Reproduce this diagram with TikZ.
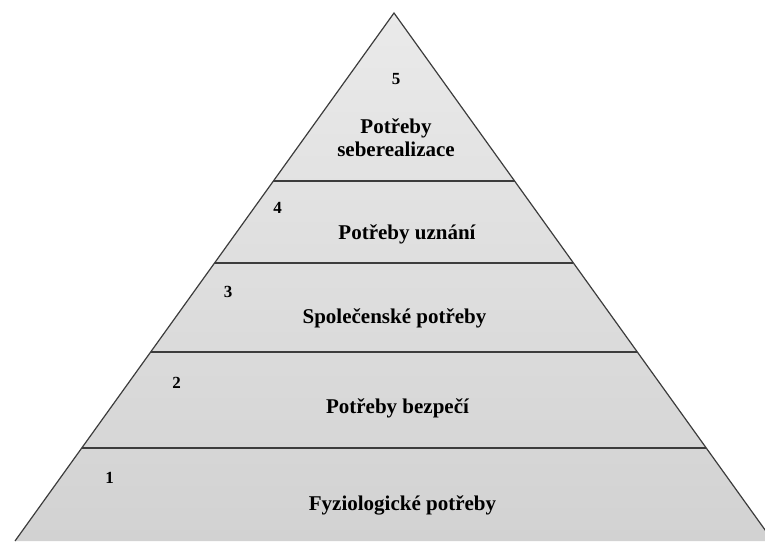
\documentclass[tikz,border=0pt]{standalone}
\usepackage{fontspec}
\setmainfont{Liberation Serif}
\usetikzlibrary{calc}
\definecolor{edgegray}{RGB}{60,60,60}
\definecolor{filltop}{RGB}{234,234,234}
\definecolor{fillbottom}{RGB}{210,210,210}
\tikzset{
  layerline/.style={draw=edgegray, line width=1.2pt},
  levelnum/.style={font=\fontsize{17}{20}\selectfont\bfseries, inner sep=0pt, anchor=base},
  levelname/.style={font=\fontsize{21}{23}\selectfont\bfseries, inner sep=0pt, anchor=base, align=center},
}
\begin{document}
\begin{tikzpicture}[x=1pt,y=-1pt]
  \useasboundingbox (0,0) rectangle (765,541);
  \clip (0,0) rectangle (765,541);
  % corners of the pyramid
  \coordinate (apex) at (394,13);
  \coordinate (bl) at (15,541);
  \coordinate (br) at (773,541);
  % body with a soft top-to-bottom grey
  \shade[top color=filltop, bottom color=fillbottom] (apex) -- (bl) -- (br) -- cycle;
  % dividing lines between the levels
  \foreach \t/\n in {0.3182/a, 0.4735/b, 0.6420/c, 0.8239/d} {
    \coordinate (L\n) at ($(apex)!\t!(bl)$);
    \coordinate (R\n) at ($(apex)!\t!(br)$);
    \draw[layerline] (L\n) -- (R\n);
  }
  % outline
  \draw[layerline, line join=miter] (bl) -- (apex) -- (br);
  % level numbers
  \node[levelnum] (n5) at (396,84) {5};
  \node[levelnum] (n4) at (277.5,213) {4};
  \node[levelnum] (n3) at (228,297) {3};
  \node[levelnum] (n2) at (176.5,388) {2};
  \node[levelnum] (n1) at (109.5,483) {1};
  % level names
  \node[levelname, anchor=center] (t5) at (396,138) {Potřeby\\seberealizace};
  \node[levelname] (t4) at (407,239) {Potřeby uznání};
  \node[levelname] (t3) at (394.5,323) {Společenské potřeby};
  \node[levelname] (t2) at (397.5,413) {Potřeby bezpečí};
  \node[levelname] (t1) at (402.5,510) {Fyziologické potřeby};
\end{tikzpicture}
\end{document}
